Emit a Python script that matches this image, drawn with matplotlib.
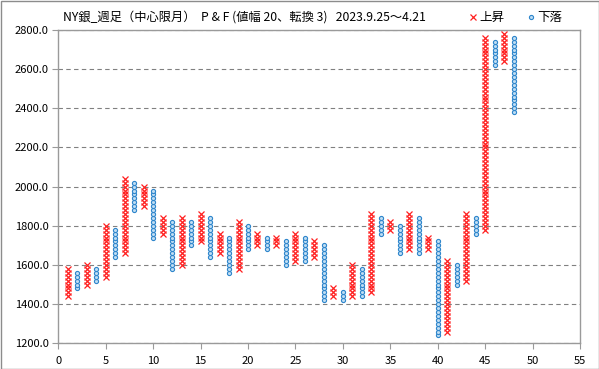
import numpy as np
import matplotlib
matplotlib.use("Agg")
import matplotlib.pyplot as plt
from matplotlib.lines import Line2D
from matplotlib.patches import Rectangle

plt.rcParams['font.family'] = ['Noto Sans CJK JP', 'DejaVu Sans']

# Point & Figure columns (box 20, reversal 3)
col_type = ['X', 'O'] * 24
col_low = [1440, 1480, 1500, 1520, 1540, 1640, 1660, 1880, 1900, 1740,
           1760, 1580, 1600, 1700, 1720, 1640, 1660, 1560, 1580, 1680,
           1700, 1680, 1700, 1600, 1620, 1620, 1640, 1420, 1440, 1420,
           1440, 1440, 1460, 1760, 1780, 1660, 1680, 1660, 1680, 1240,
           1260, 1500, 1520, 1760, 1780, 2620, 2640, 2380]
col_high = [1580, 1560, 1600, 1580, 1800, 1780, 2040, 2020, 2000, 1980,
            1840, 1820, 1840, 1820, 1860, 1840, 1760, 1740, 1820, 1800,
            1760, 1740, 1740, 1720, 1760, 1740, 1720, 1700, 1480, 1460,
            1600, 1580, 1860, 1840, 1820, 1800, 1860, 1840, 1740, 1720,
            1620, 1600, 1860, 1840, 2760, 2740, 2780, 2760]
box = 20

title = "NY銀_週足（中心限月）  P & F (値幅 20、転換 3)   2023.9.25～4.21"
legend_up = "上昇"
legend_down = "下落"

W, H = 599, 369
fig = plt.figure(figsize=(W / 100, H / 100), dpi=100)
ax = fig.add_axes([58.3 / W, 1 - 343.3 / H, (580 - 58.3) / W, (343.3 - 30) / H])

xs_x, ys_x, xs_o, ys_o = [], [], [], []
for i, (t, lo, hi) in enumerate(zip(col_type, col_low, col_high)):
    vals = np.arange(lo, hi + box / 2, box)
    if t == 'X':
        xs_x += [i + 1] * len(vals)
        ys_x += list(vals)
    else:
        xs_o += [i + 1] * len(vals)
        ys_o += list(vals)

red = '#FF2020'
blue = '#2E86CC'
ax.plot(xs_x, ys_x, linestyle='none', marker='x', markersize=4.2,
        markeredgewidth=0.9, color=red, zorder=3)
ax.plot(xs_o, ys_o, linestyle='none', marker='o', markersize=3.0,
        markeredgewidth=0.8, markeredgecolor=blue, markerfacecolor='#BFDDF3', zorder=3)

ax.set_xlim(0, 55)
ax.set_ylim(1200, 2800)
ax.set_xticks(np.arange(0, 56, 5))
ax.set_yticks(np.arange(1200, 2801, 200))
ax.set_yticklabels([f"{v:.1f}" for v in np.arange(1200, 2801, 200)])
ax.yaxis.grid(True, linestyle=(0, (4, 3)), color='#808080', linewidth=0.8)
ax.set_axisbelow(True)
for s in ax.spines.values():
    s.set_color('#9A9A9A')
    s.set_linewidth(1.0)
ax.tick_params(axis='both', direction='out', length=4, width=0.8, color='#9A9A9A',
               labelsize=8, labelcolor='#000000', pad=3)
ax.tick_params(axis='x', pad=5)

fig.text(63 / W, 1 - 17 / H, title, fontsize=8.8, va='center', ha='left')

# legend
fig.add_artist(Line2D([473 / W], [1 - 17 / H], marker='x', markersize=4,
                      markeredgewidth=0.9, color=red, transform=fig.transFigure))
fig.text(479 / W, 1 - 17 / H, legend_up, fontsize=9, va='center', ha='left')
fig.add_artist(Line2D([531 / W], [1 - 17 / H], marker='o', markersize=3.0,
                      markeredgewidth=0.8, markeredgecolor=blue, markerfacecolor='#BFDDF3',
                      transform=fig.transFigure))
fig.text(537 / W, 1 - 17 / H, legend_down, fontsize=9, va='center', ha='left')

fig.add_artist(Rectangle((0.5 / W, 0.5 / H), (W - 1) / W, (H - 1) / H, fill=False,
                         edgecolor='#8C8C8C', linewidth=1.0, transform=fig.transFigure))

fig.savefig('out.png', dpi=100)
